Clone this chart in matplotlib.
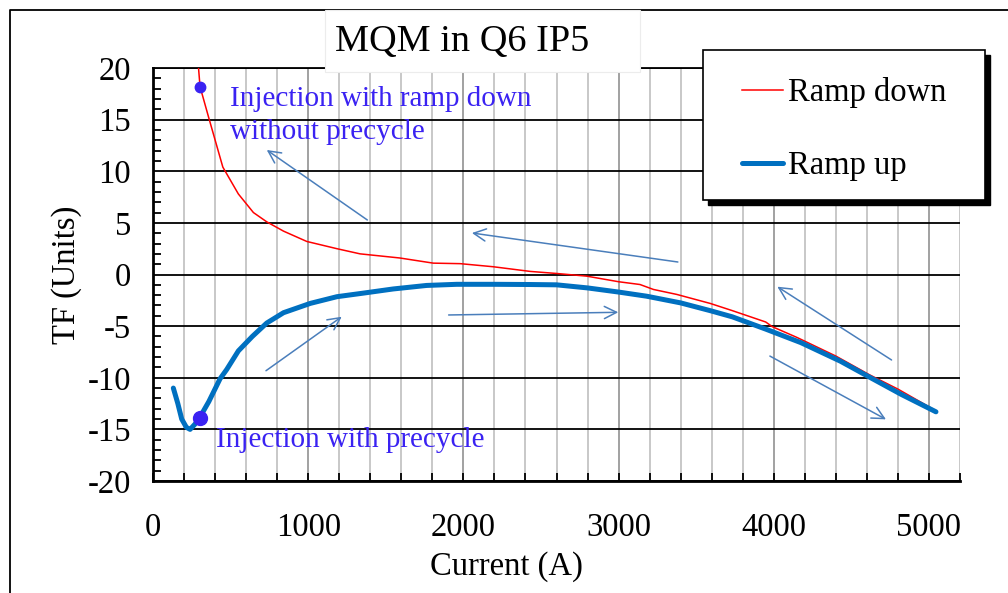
import matplotlib
matplotlib.use("Agg")
import matplotlib.pyplot as plt
from matplotlib.ticker import MultipleLocator
from matplotlib.patches import Rectangle
from matplotlib.lines import Line2D

plt.rcParams['font.family'] = ['Liberation Serif', 'DejaVu Serif']
plt.rcParams['axes.unicode_minus'] = False

# Ramp down (rojo)
current_down = [280, 303, 357, 450, 550, 647, 733, 841, 991, 1185, 1334, 1590, 1806, 1980,
                2193, 2430, 2600, 2795, 3000, 3138, 3225, 3375, 3590, 3733, 3948, 3990,
                4150, 4400, 4615, 4800, 5045]
tf_down = [22.5, 18.2, 15.3, 10.4, 7.8, 6.0, 5.1, 4.2, 3.2, 2.5, 2.0, 1.6, 1.1, 1.05,
           0.75, 0.3, 0.1, -0.16, -0.7, -0.97, -1.45, -1.93, -2.8, -3.5, -4.6, -5.05,
           -6.1, -7.9, -9.7, -11.1, -13.2]

# Ramp up (azul)
current_up = [131, 160, 185, 215, 239, 270, 303, 360, 432, 475, 550, 640, 733, 841, 1013,
              1185, 1357, 1548, 1763, 1957, 2200, 2430, 2600, 2800, 3000, 3180, 3400,
              3590, 3733, 3950, 4175, 4430, 4600, 4820, 5045]
tf_up = [-11.0, -12.5, -14.0, -14.8, -15.0, -14.5, -13.8, -12.3, -10.1, -9.2, -7.4, -6.0,
         -4.7, -3.7, -2.8, -2.15, -1.8, -1.4, -1.06, -0.95, -0.95, -0.97, -1.0, -1.3, -1.7,
         -2.1, -2.75, -3.5, -4.1, -5.3, -6.6, -8.4, -9.8, -11.6, -13.3]

# Puntos de inyeccion
inj_current = [303, 300]
inj_tf = [18.2, -13.85]
inj_size = [7.5, 10]

# Flechas (cola -> punta)
arrows = [
    ((1381, 5.28), (733, 12.06)),
    ((3382, 1.21), (2055, 4.02)),
    ((4759, -8.28), (4023, -1.18)),
    ((728, -9.32), (1216, -4.09)),
    ((1905, -3.92), (2998, -3.66)),
    ((3975, -7.9), (4723, -14.03)),
]

ink = '#3a22f2'
arrow_color = '#4a7ebb'
W, H = 1008, 593

fig = plt.figure(figsize=(10.08, 5.93), dpi=100)
ax = fig.add_axes([153 / W, 1 - 481 / H, 807 / W, 413 / H])

ax.plot(current_down, tf_down, color='#ff0000', lw=1.1, label='Ramp down', zorder=3)
ax.plot(current_up, tf_up, color='#0070c0', lw=3.6, label='Ramp up', zorder=3,
        solid_capstyle='round')

for x, y, s in zip(inj_current, inj_tf, inj_size):
    ax.plot(x, y, 'o', color=ink, markersize=s, zorder=4)

for tail, head in arrows:
    ax.annotate('', xy=head, xytext=tail,
                arrowprops=dict(arrowstyle='->', color=arrow_color, lw=1.1,
                                mutation_scale=22, shrinkA=0, shrinkB=0))

ax.text(496, 18.25, 'Injection with ramp down\nwithout precycle', color=ink,
        fontsize=21, va='top', ha='left', linespacing=1.33)
ax.text(406, -16.0, 'Injection with precycle', color=ink, fontsize=21,
        va='center', ha='left')

ax.set_xlim(0, 5200)
ax.set_ylim(-20, 20)
ax.xaxis.set_major_locator(MultipleLocator(1000))
ax.xaxis.set_minor_locator(MultipleLocator(200))
ax.yaxis.set_major_locator(MultipleLocator(5))
ax.yaxis.set_minor_locator(MultipleLocator(1))

ax.set_axisbelow(True)
ax.grid(True, axis='y', which='major', color='black', lw=1.3)
ax.grid(True, axis='x', which='minor', color='#c4c4c4', lw=1.3)
ax.grid(True, axis='x', which='major', color='#9a9a9a', lw=1.3)

ax.tick_params(which='both', direction='in', length=6, width=1.3, labelsize=23.5)
ax.tick_params(axis='x', which='both', pad=23)
ax.tick_params(axis='y', which='both', pad=16)
ax.tick_params(axis='y', which='major', length=0)

for side in ['left', 'bottom']:
    ax.spines[side].set_linewidth(2.0)
ax.spines['top'].set_linewidth(1.3)
ax.spines['right'].set_visible(False)

ax.set_xlabel('Current (A)', fontsize=23.5)
ax.set_ylabel('TF (Units)', fontsize=23.5)
ax.xaxis.set_label_coords(0.438, -0.17)
ax.yaxis.set_label_coords(-0.088, 0.5)

# Leyenda: caja y sombra propias
ax.add_patch(Rectangle((708 / W, 1 - 205 / H), 282 / W, 150 / H, transform=fig.transFigure,
                       facecolor='black', edgecolor='black', clip_on=False, zorder=4.5))
ax.add_patch(Rectangle((703 / W, 1 - 200 / H), 282 / W, 150 / H, transform=fig.transFigure,
                       facecolor='white', edgecolor='black', lw=1.2, clip_on=False,
                       zorder=4.6))
ax.legend(loc='upper left', bbox_to_anchor=(742 / W, 1 - 77 / H),
          bbox_transform=fig.transFigure, fontsize=23.5, frameon=False,
          borderpad=0, labelspacing=1.3, handlelength=1.25, handletextpad=0.15,
          borderaxespad=0)

# Marco exterior del grafico
fig.add_artist(Line2D([10 / W, 10 / W, 1], [0, 1 - 9.5 / H, 1 - 9.5 / H],
                      transform=fig.transFigure, color='black', lw=1.3, zorder=1))

# Caja blanca del titulo
fig.add_artist(Rectangle((325 / W, 1 - 72 / H), 315 / W, 62 / H,
                         transform=fig.transFigure, facecolor='white',
                         edgecolor='#ececec', lw=0.8, zorder=5))
fig.text(462 / W, 1 - 42 / H, 'MQM in Q6 IP5', ha='center', va='center',
         fontsize=27.5, zorder=6)

fig.savefig('out.png', dpi=100)
